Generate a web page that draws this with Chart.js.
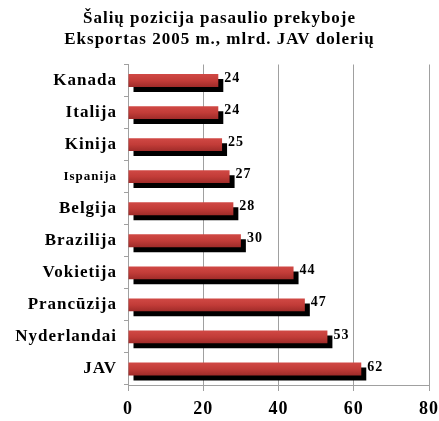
<!DOCTYPE html>
<html>
<head>
<meta charset="utf-8">
<script src="https://cdn.jsdelivr.net/npm/chart.js@4/dist/chart.umd.min.js"></script>
<style>
  html, body { margin: 0; padding: 0; background: #fff; }
  #wrap { width: 439px; height: 421px; }
</style>
</head>
<body>
<div id="wrap"><canvas id="myChart" width="439" height="421"></canvas></div>
<script>
// salys ir eksportas, mlrd. JAV doleriu
const salys = ['Kanada', 'Italija', 'Kinija', 'Ispanija', 'Belgija', 'Brazilija', 'Vokietija', 'Prancūzija', 'Nyderlandai', 'JAV']
const eksportas = [24, 24, 25, 27, 28, 30, 44, 47, 53, 62]
const xTicks = [0, 20, 40, 60, 80]
const pavadinimas = ['Šalių pozicija pasaulio prekyboje', 'Eksportas 2005 m., mlrd. JAV dolerių']

const serif = "'Liberation Serif', 'Times New Roman', serif"

// paveiksle raides isretintos
const retinimas = {
    id: 'retinimas',
    beforeUpdate(chart) { chart.ctx.letterSpacing = '1px' },
    beforeDraw(chart) { chart.ctx.letterSpacing = '1px' }
}

// juodas seselis po stulpeliais
const seselis = {
    id: 'seselis',
    beforeDatasetsDraw(chart) {
        const c = chart.ctx
        c.save()
        c.shadowColor = '#000'
        c.shadowBlur = 0
        c.shadowOffsetX = 5
        c.shadowOffsetY = 5
    },
    afterDatasetsDraw(chart) {
        chart.ctx.restore()
        // reiksmes prie stulpeliu
        const c = chart.ctx
        const meta = chart.getDatasetMeta(0)
        c.save()
        c.font = 'bold 14px ' + serif
        c.fillStyle = '#000'
        c.textAlign = 'left'
        c.textBaseline = 'middle'
        meta.data.forEach((bar, i) => {
            c.fillText(String(eksportas[i]), bar.x + 6, bar.y - 2)
        })
        c.restore()
    }
}

const ctx = document.getElementById('myChart')

new Chart(ctx, {
    type: 'bar',
    data: {
        labels: salys,
        datasets: [{
            data: eksportas,
            backgroundColor: function (context) {
                const chart = context.chart
                const y = chart.scales.y
                if (!y || !chart.chartArea) return '#c03a36'
                const mid = y.getPixelForValue(context.dataIndex)
                const g = chart.ctx.createLinearGradient(0, mid - 7, 0, mid + 7)
                g.addColorStop(0, '#d24a46')
                g.addColorStop(0.5, '#c23c38')
                g.addColorStop(1, '#9c2a28')
                return g
            },
            borderWidth: 0,
            barPercentage: 0.4,
            categoryPercentage: 1
        }]
    },
    options: {
        indexAxis: 'y',
        responsive: false,
        animation: false,
        layout: { padding: { left: 0, right: 0, top: 0, bottom: 0 } },
        plugins: {
            legend: { display: false },
            tooltip: { enabled: false },
            title: {
                display: true,
                text: pavadinimas,
                color: '#000',
                font: { family: serif, size: 17, weight: 'bold', lineHeight: 1.25 },
                padding: { top: 8, bottom: 14 }
            }
        },
        scales: {
            x: {
                min: 0,
                max: 80,
                afterBuildTicks: axis => { axis.ticks = xTicks.map(v => ({ value: v })) },
                afterFit: axis => {
                    axis.height = 36
                    axis.paddingLeft = 0
                    axis.paddingRight = 10
                },
                grid: { color: '#a0a0a0', tickLength: 6, lineWidth: 1 },
                border: { color: '#a0a0a0' },
                ticks: { color: '#000', padding: 8, font: { family: serif, size: 18, weight: 'bold' } }
            },
            y: {
                afterFit: axis => { axis.width = 128 },
                grid: { offset: true, drawOnChartArea: false, color: '#a0a0a0', tickLength: 4 },
                border: { color: '#a0a0a0' },
                ticks: {
                    color: '#000',
                    padding: 7,
                    font: function (c) {
                        return { family: serif, size: c.index === 3 ? 13 : 17, weight: 'bold' }
                    }
                }
            }
        }
    },
    plugins: [retinimas, seselis]
})
</script>
</body>
</html>
